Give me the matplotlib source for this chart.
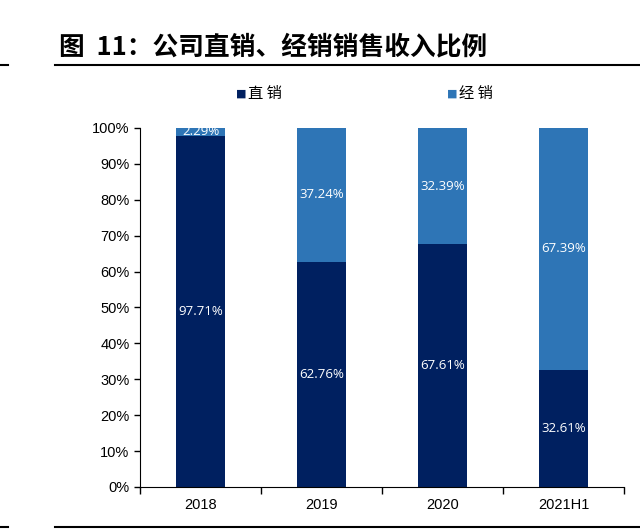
import matplotlib.pyplot as plt
import numpy as np
from matplotlib.lines import Line2D
from matplotlib.ticker import FuncFormatter

plt.rcParams['font.family'] = ['Liberation Sans', 'Noto Sans CJK SC']

# data
years = ["2018", "2019", "2020", "2021H1"]
direct = [97.71, 62.76, 67.61, 32.61]
dealer = [2.29, 37.24, 32.39, 67.39]

navy = "#002060"
blue = "#2E75B6"

fig = plt.figure(figsize=(6.4, 5.31), dpi=100)
ax = fig.add_axes([0.21875, 0.0829, 0.75625, 0.6761])

x = np.arange(len(years))
ax.bar(x, direct, width=0.4, color=navy, label="直销")
ax.bar(x, dealer, width=0.4, bottom=direct, color=blue, label="经销")

for i in range(len(years)):
    ax.text(x[i], direct[i] / 2, "%.2f%%" % direct[i], ha="center", va="center",
            color="white", fontsize=9.5, family=["Open Sans", "DejaVu Sans"])
    ypos = direct[i] + dealer[i] / 2
    if dealer[i] < 5:
        ypos = 99.0
    ax.text(x[i], ypos, "%.2f%%" % dealer[i], ha="center", va="center",
            color="white", fontsize=9.5, family=["Open Sans", "DejaVu Sans"])

ax.set_xlim(-0.5, 3.5)
ax.set_ylim(0, 100)
ax.set_yticks(np.arange(0, 101, 10))
ax.yaxis.set_major_formatter(FuncFormatter(lambda v, p: "%d%%" % v))
ax.set_xticks(np.arange(-0.5, 3.6, 1))
ax.set_xticklabels([])
ax.set_xticks(x, minor=True)
ax.set_xticklabels(years, minor=True)
ax.tick_params(axis="x", which="minor", length=0, labelsize=10.5, pad=8)
ax.tick_params(axis="x", which="major", length=5, direction="out", width=1)
ax.tick_params(axis="y", length=4, direction="out", labelsize=10.5, width=1)
ax.spines["top"].set_visible(False)
ax.spines["right"].set_visible(False)

# legend
fig.text(0.368, 0.823, "■", color=navy, fontsize=8, va="center", family=["DejaVu Sans"])
fig.text(0.387, 0.823, "直 销", fontsize=11, va="center", family=["Noto Sans CJK SC"])
fig.text(0.698, 0.823, "■", color=blue, fontsize=8, va="center", family=["DejaVu Sans"])
fig.text(0.717, 0.823, "经 销", fontsize=11, va="center", family=["Noto Sans CJK SC"])

# title and rules
fig.text(0.092, 0.912, "图  11：公司直销、经销销售收入比例", fontsize=18.5, fontweight="bold",
         va="center", family=["Noto Sans CJK SC"])
fig.add_artist(Line2D([0.086, 1.0], [0.877, 0.877], color="black", lw=1.5))
fig.add_artist(Line2D([0.0, 0.013], [0.877, 0.877], color="black", lw=1.5))
fig.add_artist(Line2D([0.086, 1.0], [0.008, 0.008], color="black", lw=1.5))
fig.add_artist(Line2D([0.0, 0.013], [0.008, 0.008], color="black", lw=1.5))

fig.savefig("out.png", dpi=100)
